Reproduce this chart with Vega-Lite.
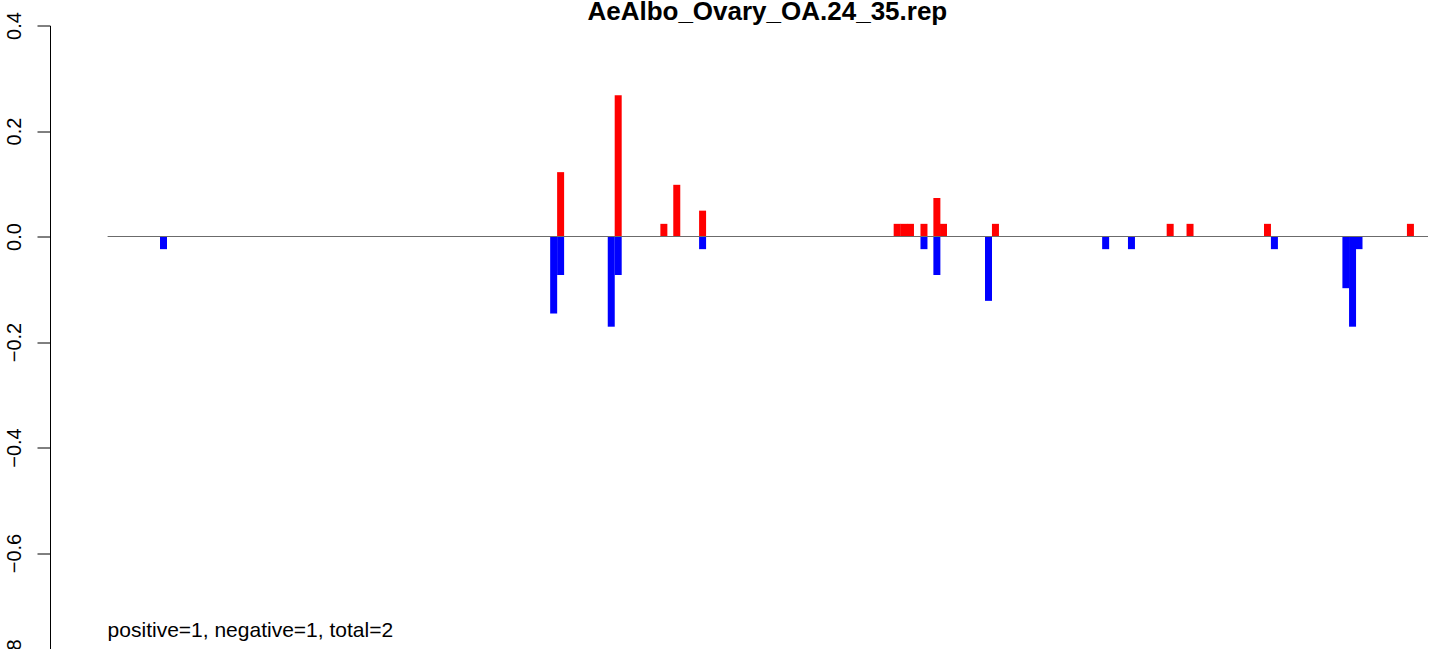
{
  "$schema": "https://vega.github.io/schema/vega-lite/v6.json",
  "width": 1383,
  "height": 623.5,
  "autosize": {"type": "none"},
  "padding": {"left": 50, "top": 25.5, "right": 0, "bottom": 0},
  "background": "white",
  "config": {"view": {"stroke": null}, "font": "Liberation Sans"},
  "layer": [
    {
      "data": {
        "values": [
          {"pos": 109.3, "value": -0.024, "sign": "neg"},
          {"pos": 502.3, "value": -0.146, "sign": "neg"},
          {"pos": 509.3, "value": -0.073, "sign": "neg"},
          {"pos": 509.3, "value": 0.122, "sign": "pos"},
          {"pos": 560.3, "value": -0.171, "sign": "neg"},
          {"pos": 567.3, "value": -0.073, "sign": "neg"},
          {"pos": 567.3, "value": 0.268, "sign": "pos"},
          {"pos": 613.3, "value": 0.024, "sign": "pos"},
          {"pos": 626.3, "value": 0.098, "sign": "pos"},
          {"pos": 652.3, "value": 0.049, "sign": "pos"},
          {"pos": 652.3, "value": -0.024, "sign": "neg"},
          {"pos": 848.3, "value": 0.024, "sign": "pos"},
          {"pos": 855.0, "value": 0.024, "sign": "pos"},
          {"pos": 861.7, "value": 0.024, "sign": "pos"},
          {"pos": 875.3, "value": 0.024, "sign": "pos"},
          {"pos": 875.3, "value": -0.024, "sign": "neg"},
          {"pos": 888.3, "value": 0.073, "sign": "pos"},
          {"pos": 888.3, "value": -0.073, "sign": "neg"},
          {"pos": 895.0, "value": 0.024, "sign": "pos"},
          {"pos": 940.3, "value": -0.122, "sign": "neg"},
          {"pos": 947.3, "value": 0.024, "sign": "pos"},
          {"pos": 1058.3, "value": -0.024, "sign": "neg"},
          {"pos": 1084.3, "value": -0.024, "sign": "neg"},
          {"pos": 1123.3, "value": 0.024, "sign": "pos"},
          {"pos": 1143.3, "value": 0.024, "sign": "pos"},
          {"pos": 1221.3, "value": 0.024, "sign": "pos"},
          {"pos": 1228.3, "value": -0.024, "sign": "neg"},
          {"pos": 1300.3, "value": -0.098, "sign": "neg"},
          {"pos": 1307.0, "value": -0.171, "sign": "neg"},
          {"pos": 1313.5, "value": -0.024, "sign": "neg"},
          {"pos": 1365.3, "value": 0.024, "sign": "pos"}
        ]
      },
      "mark": {"type": "bar", "width": 7},
      "encoding": {
        "x": {"field": "pos", "type": "quantitative", "scale": {"domain": [0, 1383], "nice": false, "zero": false}, "axis": null},
        "y": {
          "field": "value",
          "type": "quantitative",
          "scale": {"domain": [-0.8, 0.4], "range": [633, 0], "nice": false, "zero": false},
          "axis": {
            "values": [0.4, 0.2, 0, -0.2, -0.4, -0.6, -0.8],
            "format": ".1f",
            "labelAngle": -90,
            "labelAlign": "center",
            "labelBaseline": "alphabetic",
            "labelPadding": 17,
            "labelFontSize": 20,
            "labelFont": "Liberation Sans",
            "labelColor": "black",
            "labelOverlap": false,
            "labelFlush": false,
            "labelBound": false,
            "tickSize": 13,
            "tickColor": "black",
            "tickWidth": 1,
            "domainColor": "black",
            "domainWidth": 1,
            "grid": false,
            "title": null
          }
        },
        "y2": {"datum": 0},
        "color": {"field": "sign", "type": "nominal", "scale": {"domain": ["pos", "neg"], "range": ["#FF0000", "#0000FF"]}, "legend": null}
      }
    },
    {
      "data": {"values": [{"start": 53, "end": 1383, "level": 0}]},
      "mark": {"type": "rule", "color": "#6b6b6b", "strokeWidth": 1.2},
      "encoding": {
        "x": {"field": "start", "type": "quantitative"},
        "x2": {"field": "end"},
        "y": {"field": "level", "type": "quantitative"}
      }
    },
    {
      "data": {"values": [{"start": 53, "yv": -0.76, "label": "positive=1, negative=1, total=2"}]},
      "mark": {"type": "text", "align": "left", "baseline": "alphabetic", "fontSize": 21, "font": "Liberation Sans", "color": "black"},
      "encoding": {
        "x": {"field": "start", "type": "quantitative"},
        "y": {"field": "yv", "type": "quantitative"},
        "text": {"field": "label", "type": "nominal"}
      }
    },
    {
      "data": {"values": [{"center": 717.5, "yv": 0.4105, "label": "AeAlbo_Ovary_OA.24_35.rep"}]},
      "mark": {"type": "text", "align": "center", "baseline": "alphabetic", "fontSize": 26, "fontWeight": "bold", "font": "Liberation Sans", "color": "black"},
      "encoding": {
        "x": {"field": "center", "type": "quantitative"},
        "y": {"field": "yv", "type": "quantitative"},
        "text": {"field": "label", "type": "nominal"}
      }
    }
  ]
}
